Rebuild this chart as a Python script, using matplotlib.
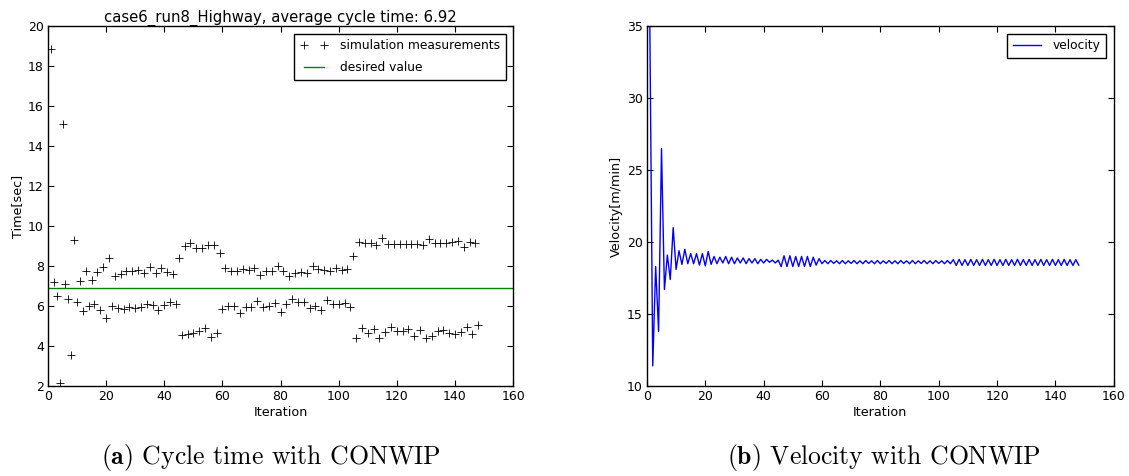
import matplotlib
matplotlib.use('Agg')
import matplotlib.pyplot as plt

plt.rcParams['mathtext.fontset'] = 'cm'

# cycle time per iteration
iterations = list(range(1, 149))
cycle_time = [
    18.85, 7.22, 6.52, 2.13, 15.1, 7.1, 6.35, 3.57, 9.32, 6.18,
    7.25, 5.75, 7.73, 6.0, 7.28, 6.1, 7.7, 5.8, 7.93, 5.38,
    8.42, 6.02, 7.52, 5.92, 7.6, 5.85, 7.77, 5.95, 7.77, 5.9,
    7.8, 5.93, 7.65, 6.1, 7.93, 6.07, 7.65, 5.8, 7.88, 6.07,
    7.68, 6.18, 7.6, 6.1, 8.42, 4.55, 9.0, 4.58, 9.17, 4.63,
    8.88, 4.75, 8.9, 4.92, 9.07, 4.47, 9.03, 4.67, 8.63, 5.83,
    7.92, 6.0, 7.73, 6.0, 7.77, 5.67, 7.87, 5.93, 7.8, 5.93,
    7.9, 6.25, 7.55, 5.93, 7.73, 6.02, 7.73, 6.13, 8.02, 5.72,
    7.77, 6.08, 7.52, 6.35, 7.63, 6.18, 7.68, 6.18, 7.63, 5.88,
    8.02, 6.02, 7.85, 5.8, 7.8, 6.3, 7.75, 6.08, 7.88, 6.08,
    7.8, 6.13, 7.85, 5.93, 8.5, 4.38, 9.18, 4.88, 9.13, 4.63,
    9.13, 4.85, 9.05, 4.42, 9.42, 4.72, 9.08, 4.97, 9.08, 4.75,
    9.08, 4.75, 9.08, 4.85, 9.08, 4.52, 9.12, 4.8, 9.05, 4.42,
    9.35, 4.52, 9.13, 4.75, 9.13, 4.8, 9.13, 4.67, 9.18, 4.58,
    9.27, 4.72, 8.93, 4.97, 9.22, 4.58, 9.13, 5.05,
]
desired = 6.92

velocity = [
    35.0, 11.4, 18.3, 13.8, 26.5, 16.7, 19.1, 17.4, 21.0, 18.1,
    19.4, 18.45, 19.5, 18.5, 19.2, 18.5, 19.2, 18.4, 19.2, 18.35,
    19.35, 18.45, 19.0, 18.5, 18.95, 18.55, 19.0, 18.5, 18.95, 18.5,
    18.9, 18.55, 18.9, 18.5, 18.85, 18.55, 18.85, 18.5, 18.8, 18.55,
    18.8, 18.6, 18.75, 18.55, 18.75, 18.3, 19.05, 18.3, 19.05, 18.3,
    19.0, 18.3, 19.0, 18.3, 19.0, 18.3, 18.95, 18.4, 18.85, 18.5,
    18.72, 18.5, 18.72, 18.52, 18.7, 18.5, 18.72, 18.5, 18.7, 18.52,
    18.72, 18.5, 18.7, 18.5, 18.72, 18.52, 18.7, 18.5, 18.72, 18.5,
    18.7, 18.52, 18.72, 18.5, 18.7, 18.5, 18.72, 18.52, 18.7, 18.5,
    18.72, 18.5, 18.7, 18.52, 18.72, 18.5, 18.7, 18.5, 18.72, 18.52,
    18.7, 18.5, 18.72, 18.5, 18.78, 18.38, 18.8, 18.38, 18.78, 18.38,
    18.8, 18.38, 18.78, 18.38, 18.8, 18.38, 18.78, 18.38, 18.8, 18.38,
    18.78, 18.38, 18.8, 18.38, 18.78, 18.38, 18.8, 18.38, 18.78, 18.38,
    18.8, 18.38, 18.78, 18.38, 18.8, 18.38, 18.78, 18.38, 18.8, 18.38,
    18.78, 18.38, 18.8, 18.38, 18.78, 18.38, 18.78, 18.4,
]

fig = plt.figure(figsize=(11.29, 4.76), dpi=100)
ax1 = fig.add_axes([0.0425, 0.189, 0.412, 0.756])
ax2 = fig.add_axes([0.573, 0.189, 0.4135, 0.756])

fs = 9.2
for ax in (ax1, ax2):
    ax.tick_params(direction='in', top=True, right=True, length=4, labelsize=9, pad=3)
    for s in ax.spines.values():
        s.set_linewidth(1.0)
    ax.set_xlim(0, 160)
    ax.set_xlabel('Iteration', fontsize=fs, labelpad=2)

ax1.plot(iterations, cycle_time, 'k+', markersize=6, markeredgewidth=0.6,
         label='simulation measurements')
ax1.axhline(desired, color='g', linewidth=1.0, label='desired value')
ax1.set_ylim(2, 20)
ax1.set_yticks(range(2, 21, 2))
ax1.set_ylabel('Time[sec]', fontsize=fs, labelpad=3)
ax1.set_title('case6_run8_Highway, average cycle time: 6.92', fontsize=10.7, pad=3)
leg = ax1.legend(loc='upper right', numpoints=2, fontsize=8.8, fancybox=False,
                 edgecolor='black', framealpha=1, borderaxespad=0.6,
                 borderpad=0.45, labelspacing=0.75, handlelength=2.3,
                 handletextpad=1.0)
leg.get_frame().set_linewidth(1.0)

ax2.plot(iterations, velocity, 'b-', linewidth=1.0, label='velocity')
ax2.set_ylim(10, 35)
ax2.set_ylabel('Velocity[m/min]', fontsize=fs, labelpad=3)
leg2 = ax2.legend(loc='upper right', fontsize=8.8, fancybox=False,
                  edgecolor='black', framealpha=1, borderaxespad=0.6,
                  borderpad=0.45, handlelength=2.3, handletextpad=1.0)
leg2.get_frame().set_linewidth(1.0)

fig.text(0.240, 0.038, r'$\mathbf{(a)}$ Cycle time with CONWIP', family='cmr10',
         fontsize=18.5, ha='center', va='center')
fig.text(0.783, 0.038, r'$\mathbf{(b)}$ Velocity with CONWIP', family='cmr10',
         fontsize=18.5, ha='center', va='center')

fig.savefig('out.png', dpi=100)
